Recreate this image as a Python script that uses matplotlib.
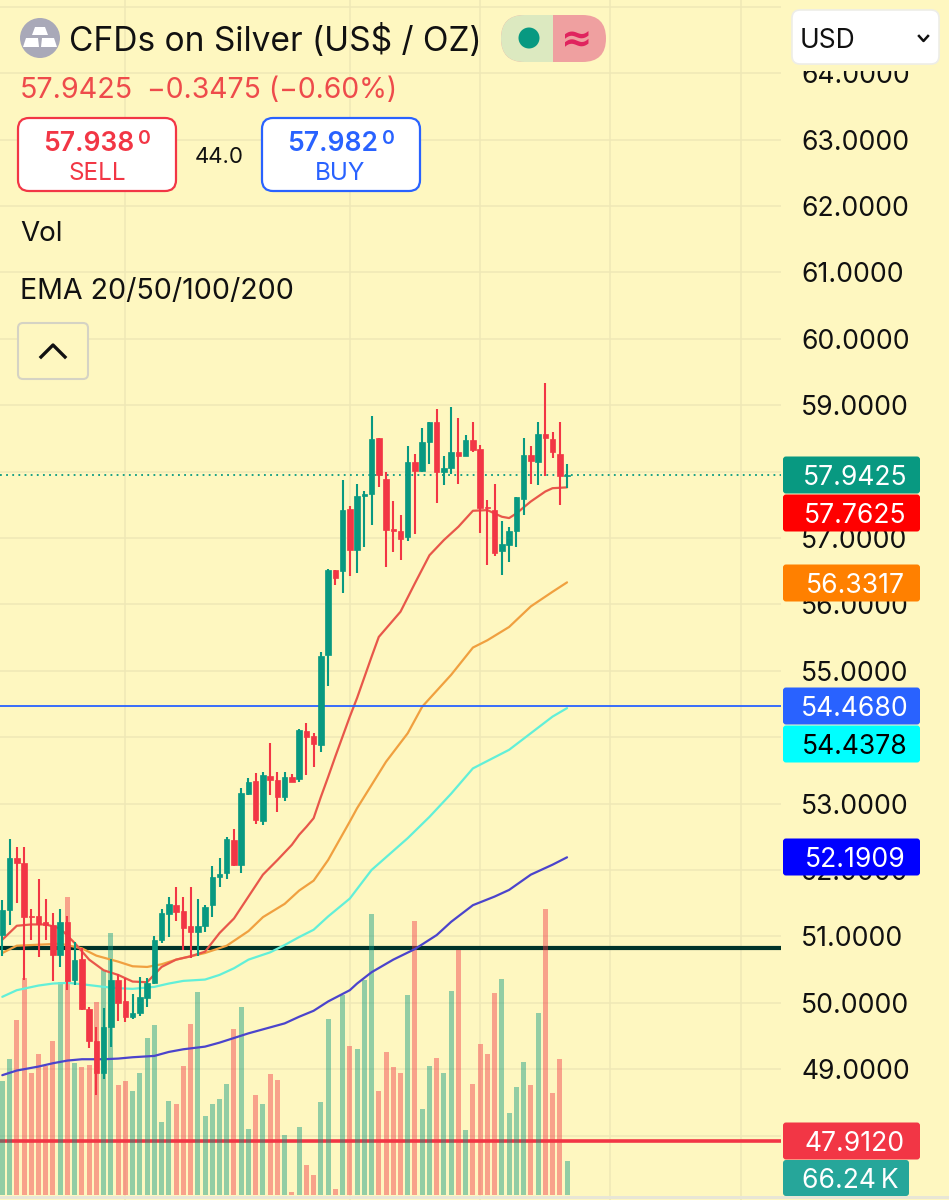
import matplotlib
matplotlib.use("Agg")
import matplotlib.pyplot as plt
from matplotlib.patches import FancyBboxPatch, Circle, Polygon, Rectangle
from matplotlib.ticker import FormatStrFormatter

plt.rcParams["font.family"] = ["Inter", "DejaVu Sans"]

opens = [51.02, 51.40, 52.18, 52.10, 51.31, 51.31, 51.21, 51.17, 50.72, 51.22,
         50.34, 50.66, 49.91, 49.43, 48.95, 49.63, 50.35, 50.03, 49.78, 49.84,
         50.07, 50.30, 50.94, 51.34, 51.47, 51.39, 51.15, 51.06, 51.15, 51.47,
         51.89, 51.95, 52.45, 52.08, 53.14, 53.34, 52.74, 53.42, 53.36, 53.10,
         53.40, 53.37, 54.09, 54.02, 53.88, 55.24, 56.52, 56.50, 57.43, 56.82,
         57.64, 57.66, 58.50, 57.89, 57.14, 57.10, 57.01, 58.14, 58.01, 58.44,
         58.74, 58.00, 58.05, 58.29, 58.24, 58.48, 58.34, 57.47, 57.42, 56.80,
         56.89, 57.11, 57.59, 58.25, 58.14, 58.56, 58.49, 58.27, 57.93]
closes = [51.40, 52.18, 52.10, 51.29, 51.29, 51.19, 51.17, 50.72, 51.21, 50.33,
          50.65, 49.91, 49.42, 48.95, 49.63, 50.35, 50.00, 49.78, 49.84, 50.09,
          50.30, 50.95, 51.35, 51.49, 51.37, 51.12, 51.07, 51.16, 51.45, 51.89,
          51.94, 52.47, 52.07, 53.16, 53.33, 52.75, 53.43, 53.35, 53.10, 53.40,
          53.32, 54.11, 54.01, 53.90, 55.22, 56.52, 56.40, 57.42, 56.82, 57.64,
          57.67, 58.49, 57.95, 57.12, 57.11, 56.99, 58.14, 58.01, 58.45, 58.74,
          57.99, 58.06, 58.29, 58.24, 58.48, 58.33, 57.45, 57.45, 56.77, 56.91,
          57.11, 57.61, 58.25, 58.16, 58.57, 58.50, 58.30, 57.94, 57.9425]
highs = [51.55, 52.47, 52.35, 52.35, 51.42, 51.86, 51.57, 51.35, 51.41, 51.31,
         50.91, 50.82, 49.94, 49.63, 49.92, 50.66, 50.44, 50.38, 50.13, 50.39,
         50.38, 51.00, 51.41, 51.60, 51.75, 51.59, 51.75, 51.56, 51.47, 52.06,
         52.18, 52.49, 52.62, 53.24, 53.38, 53.46, 53.47, 53.92, 53.48, 53.47,
         53.44, 54.13, 54.21, 54.07, 55.29, 56.54, 56.52, 57.87, 57.48, 57.81,
         57.71, 58.84, 58.50, 58.00, 57.55, 57.34, 58.38, 58.26, 58.65, 58.75,
         58.95, 58.24, 58.98, 58.80, 58.55, 58.75, 58.40, 57.57, 57.82, 57.25,
         57.17, 57.61, 58.51, 58.39, 58.75, 59.34, 58.59, 58.74, 58.12]
lows = [50.71, 51.17, 51.51, 50.35, 50.94, 50.69, 50.95, 50.33, 50.54, 50.20,
        50.27, 49.89, 49.32, 48.61, 48.85, 49.34, 49.73, 49.71, 49.76, 49.80,
        49.93, 50.28, 50.90, 50.99, 51.23, 50.79, 50.67, 50.70, 51.06, 51.29,
        51.74, 51.86, 52.06, 51.95, 53.13, 52.70, 52.68, 53.13, 52.88, 53.04,
        53.32, 53.32, 53.43, 53.55, 53.77, 54.77, 56.29, 56.17, 56.43, 56.47,
        56.87, 57.20, 57.77, 56.57, 56.79, 56.67, 56.96, 57.06, 58.00, 58.11,
        57.52, 57.80, 57.97, 57.81, 58.24, 58.29, 57.07, 56.59, 56.73, 56.45,
        56.64, 56.87, 57.34, 57.81, 57.80, 57.94, 58.21, 57.49, 57.76]

# volume in thousands, last one is the 66.24 K tag
volumes = [219, 262, 338, 418, 236, 272, 248, 297, 410, 574,
           254, 246, 251, 372, 434, 506, 212, 219, 201, 236,
           302, 328, 141, 182, 176, 249, 330, 391, 152, 176,
           185, 215, 320, 363, 127, 193, 175, 233, 222, 116,
           6, 132, 58, 39, 180, 339, 12, 386, 287, 282,
           415, 543, 201, 276, 246, 236, 386, 529, 166, 249,
           264, 235, 394, 473, 125, 214, 291, 272, 389, 417,
           158, 209, 257, 212, 352, 551, 196, 263, 66.24]

# EMA lines read at single candles
ema20_x = [0, 2, 4, 6, 8, 10, 12, 14, 16, 18, 20, 22, 24, 26, 28, 30, 32, 34, 36,
           38, 40, 41, 42, 43, 44, 45, 46, 47, 48, 49, 51, 52, 55, 57, 59, 61, 63,
           65, 67, 69, 70, 71, 73, 75, 76, 78]
ema20_y = [50.95, 51.16, 51.18, 51.18, 51.12, 50.90, 50.65, 50.49, 50.42, 50.32,
           50.31, 50.54, 50.65, 50.70, 50.77, 51.05, 51.27, 51.60, 51.93,
           52.15, 52.38, 52.53, 52.65, 52.78, 53.10, 53.40, 53.71, 54.01, 54.31,
           54.59, 55.21, 55.51, 55.89, 56.32, 56.74, 56.97, 57.17,
           57.41, 57.42, 57.32, 57.30, 57.37, 57.55, 57.70, 57.75, 57.7625]
ema50_x = [0, 2, 4, 6, 8, 11, 13, 16, 18, 20, 22, 24, 26, 28, 31, 34, 36, 39, 41,
           43, 45, 48, 49, 51, 53, 56, 58, 62, 65, 67, 70, 73, 76, 78]
ema50_y = [50.75, 50.86, 50.87, 50.88, 50.89, 50.82, 50.71, 50.62, 50.55, 50.54,
           50.58, 50.65, 50.70, 50.75, 50.86, 51.08, 51.29, 51.49, 51.69,
           51.84, 52.15, 52.73, 52.93, 53.28, 53.63, 54.06, 54.46, 54.94, 55.35,
           55.46, 55.66, 55.97, 56.19, 56.3317]
ema100_x = [0, 2, 5, 7, 9, 11, 14, 16, 18, 21, 23, 25, 28, 30, 32, 34, 37, 39, 41,
            43, 45, 48, 51, 56, 59, 62, 65, 70, 73, 76, 78]
ema100_y = [50.09, 50.19, 50.26, 50.29, 50.30, 50.28, 50.24, 50.22, 50.21, 50.24,
            50.29, 50.33, 50.35, 50.42, 50.52, 50.65, 50.76, 50.87, 50.99,
            51.10, 51.30, 51.57, 52.00, 52.48, 52.80, 53.15, 53.53, 53.81, 54.06,
            54.31, 54.4378]
ema200_x = [0, 2, 5, 7, 9, 11, 14, 16, 18, 21, 23, 25, 28, 30, 32, 34, 37, 39, 41,
            43, 45, 48, 49, 51, 54, 57, 60, 62, 65, 68, 70, 73, 76, 78]
ema200_y = [48.91, 48.98, 49.04, 49.09, 49.13, 49.15, 49.15, 49.16, 49.18, 49.20,
            49.26, 49.30, 49.34, 49.40, 49.47, 49.54, 49.63, 49.69, 49.79,
            49.88, 50.02, 50.19, 50.29, 50.46, 50.65, 50.81, 51.02, 51.22, 51.47,
            51.60, 51.70, 51.93, 52.08, 52.1909]

# 48, 54 and 58 sit fully behind the price tags in the picture
price_ticks = [49, 50, 51, 52, 53, 55, 56, 57, 59, 60, 61, 62, 63, 64]
grid_prices = list(range(48, 66))
grid_candles = [17, 48, 66, 84, 102]

support_price = 50.83
stop_price = 47.912
buy_price = 54.468
last_price = 57.9425

tag_labels = ["57.9425", "57.7625", "56.3317", "54.4680", "54.4378", "52.1909", "47.9120"]
tag_colors = ["#089981", "#FF0000", "#FF8000", "#2962FF", "#00FFFF", "#0000FF", "#F23645"]
tag_text_colors = ["white", "white", "white", "white", "black", "white", "white"]
tag_centers = [475, 513, 583, 706, 744, 857, 1141]

BG = "#FEF7C0"
GRID = "#EFE8B6"
GREEN = "#089981"
RED = "#F23645"
W, H = 949, 1200
RIGHT = 781 / W

fig = plt.figure(figsize=(W / 100, H / 100), dpi=100, facecolor=BG)

# three stacked axes so the volume bars sit between the level lines and the candles
ax_bg = fig.add_axes([0, 0, 1, 1], facecolor=BG)
ax_vol = fig.add_axes([0, 0, 1, 1], sharex=ax_bg)
ax = fig.add_axes([0, 0, 1, 1], sharex=ax_bg, sharey=ax_bg)
ax_vol.patch.set_visible(False)
ax.patch.set_visible(False)

ax_bg.set_xlim(-2.3 / 7.24, (W - 2.3) / 7.24)
ax_bg.set_ylim(52 - (H - 870) / 66.4, 52 + 870 / 66.4)
ax_vol.set_ylim(-9.6, 2305)
ax_vol.axis("off")
for a in (ax_bg, ax):
    for s in a.spines.values():
        s.set_visible(False)
ax_bg.tick_params(left=False, bottom=False, labelleft=False, labelbottom=False)

# grid and levels
y_tr = ax_bg.get_yaxis_transform()
ax_bg.hlines(grid_prices, 0, RIGHT, transform=y_tr, color=GRID, lw=1.1, zorder=1)
for c in grid_candles:
    ax_bg.axvline(c, color=GRID, lw=1.1, zorder=1)
ax_bg.hlines(support_price, 0, RIGHT, transform=y_tr, color="#00332A", lw=3.0, zorder=2)
ax_bg.hlines(stop_price, 0, RIGHT, transform=y_tr, color=RED, lw=2.6, zorder=2)

# volume
xs = list(range(len(closes)))
up = [c >= o for o, c in zip(opens, closes)]
ax_vol.bar(xs, volumes, width=0.69, color=[GREEN if u else RED for u in up], alpha=0.44, lw=0)

# EMA lines
ax.plot(ema200_x, ema200_y, color="#4B44CC", lw=1.6, zorder=2, solid_capstyle="round")
ax.plot(ema100_x, ema100_y, color="#62EFD8", lw=1.6, zorder=2, solid_capstyle="round")
ax.plot(ema50_x, ema50_y, color="#F0A040", lw=1.6, zorder=2, solid_capstyle="round")
ax.plot(ema20_x, ema20_y, color="#E8574A", lw=1.6, zorder=2, solid_capstyle="round")

ax.hlines(buy_price, 0, RIGHT, transform=ax.get_yaxis_transform(), color="#2962FF", lw=1.3, zorder=2.5)
ax.hlines(last_price, 0, RIGHT, transform=ax.get_yaxis_transform(), color=GREEN, lw=1.3,
          linestyles=(0, (1, 2.4)), zorder=2.5)

# candles
colors = [GREEN if u else RED for u in up]
ax.vlines(xs, lows, highs, color=colors, lw=1.5, zorder=3)
ax.bar(xs, [abs(c - o) for o, c in zip(opens, closes)], bottom=[min(o, c) for o, c in zip(opens, closes)],
       width=0.76, color=colors, edgecolor=colors, lw=0.5, zorder=4)

# price scale
ax.set_yticks(price_ticks)
ax.yaxis.set_major_formatter(FormatStrFormatter("%.4f"))
ax.yaxis.tick_right()
ax.tick_params(axis="y", length=0, pad=-106.5, labelsize=19.1, labelcolor="#111111")
ax.tick_params(axis="x", bottom=False, labelbottom=False)

# pixel overlay for the app panel and the tags
ui = fig.add_axes([0, 0, 1, 1])
ui.set_xlim(0, W)
ui.set_ylim(H, 0)
ui.axis("off")
ui.patch.set_visible(False)


def box(x0, y0, x1, y1, r, face, edge="none", lw=0.0, z=5):
    p = FancyBboxPatch((x0 + r, y0 + r), x1 - x0 - 2 * r, y1 - y0 - 2 * r,
                       boxstyle=f"round,pad={r},rounding_size={r}",
                       fc=face, ec=edge, lw=lw, zorder=z)
    ui.add_patch(p)
    return p


# header hides the top half of the 64.0000 label
ui.add_patch(Rectangle((782, 0), W - 782, 71, fc=BG, ec="none", zorder=4))
ui.add_patch(Rectangle((0, 1196), W, 3, fc="#E8E6D6", ec="none", zorder=4))

for lab, col, tcol, cy in zip(tag_labels, tag_colors, tag_text_colors, tag_centers):
    box(783, cy - 18.5, 920, cy + 18.5, 3, col)
    ui.text(855, cy, lab, color=tcol, fontsize=19.1, ha="center", va="center_baseline", zorder=6)
box(783, 1160, 909, 1196, 3, "#26A69A")
ui.text(802, 1178, "66.24\u2009K", color="white", fontsize=19.1, ha="left", va="center_baseline", zorder=6)

# title row
ui.add_patch(Circle((40, 38), 20, fc="#A9A9B8", ec="none", zorder=5))
for pts in ([(35, 27), (45, 27), (48, 35), (32, 35)],
            [(26, 38), (38, 38), (39, 47), (23, 47)],
            [(42, 38), (54, 38), (57, 47), (41, 47)]):
    ui.add_patch(Polygon(pts, fc="white", ec="none", zorder=6))
ui.text(69, 38, "CFDs on Silver (US$ / OZ)", color="#111111", fontsize=24.1, ha="left",
        va="center_baseline", zorder=6)

pill = box(501, 15, 606, 62, 23.5, "#EFA0A0", z=5)
left = Rectangle((501, 15), 52, 47, fc="#DCE9C0", ec="none", zorder=5.5)
ui.add_patch(left)
left.set_clip_path(pill)
ui.add_patch(Circle((529, 38), 10.5, fc=GREEN, ec="none", zorder=6))
ui.text(577, 37, "≈", color="#E0245E", fontsize=27, fontweight="bold", ha="center",
        va="center_baseline", zorder=6, family="DejaVu Sans")

box(792, 10, 939, 64, 8, "white", "#EDEDE8", 1.2)
ui.text(800, 38, "USD", color="#111111", fontsize=19, ha="left", va="center_baseline", zorder=6)
ui.plot([919, 923.5, 928], [36, 41, 36], color="#111111", lw=1.8, zorder=6)

ui.text(20, 88, "57.9425", color="#EE4B4B", fontsize=20.7, ha="left", va="center_baseline", zorder=6)
ui.text(147, 88, "−0.3475 (−0.60%)", color="#EE4B4B", fontsize=20.4, ha="left", va="center_baseline", zorder=6)

# sell and buy boxes
box(18, 118, 176, 191, 11, "white", RED, 1.6)
box(262, 118, 420, 191, 11, "white", "#2962FF", 1.6)
ui.text(43, 141, "57.938", color=RED, fontsize=19, fontweight="semibold", ha="left", va="center_baseline", zorder=6)
ui.text(138, 137, "0", color=RED, fontsize=14, fontweight="semibold", ha="left", va="center_baseline", zorder=6)
ui.text(97, 171, "SELL", color=RED, fontsize=17.5, ha="center", va="center_baseline", zorder=6)
ui.text(287, 141, "57.982", color="#2962FF", fontsize=19, fontweight="semibold", ha="left", va="center_baseline", zorder=6)
ui.text(382, 137, "0", color="#2962FF", fontsize=14, fontweight="semibold", ha="left", va="center_baseline", zorder=6)
ui.text(340, 171, "BUY", color="#2962FF", fontsize=17.5, ha="center", va="center_baseline", zorder=6)
ui.text(219, 155, "44.0", color="#111111", fontsize=16, ha="center", va="center_baseline", zorder=6)

ui.text(20, 231, "Vol", color="#111111", fontsize=20, ha="left", va="center_baseline", zorder=6)
ui.text(20, 288, "EMA 20/50/100/200", color="#111111", fontsize=20.6, ha="left", va="center_baseline", zorder=6)

box(18, 323, 88, 379, 5, "#FEF7C0", "#D5D3C4", 1.5)
ui.plot([41, 53, 65], [357, 345, 357], color="#111111", lw=2.4, zorder=6)

fig.savefig("out.png", dpi=100, facecolor=BG)
